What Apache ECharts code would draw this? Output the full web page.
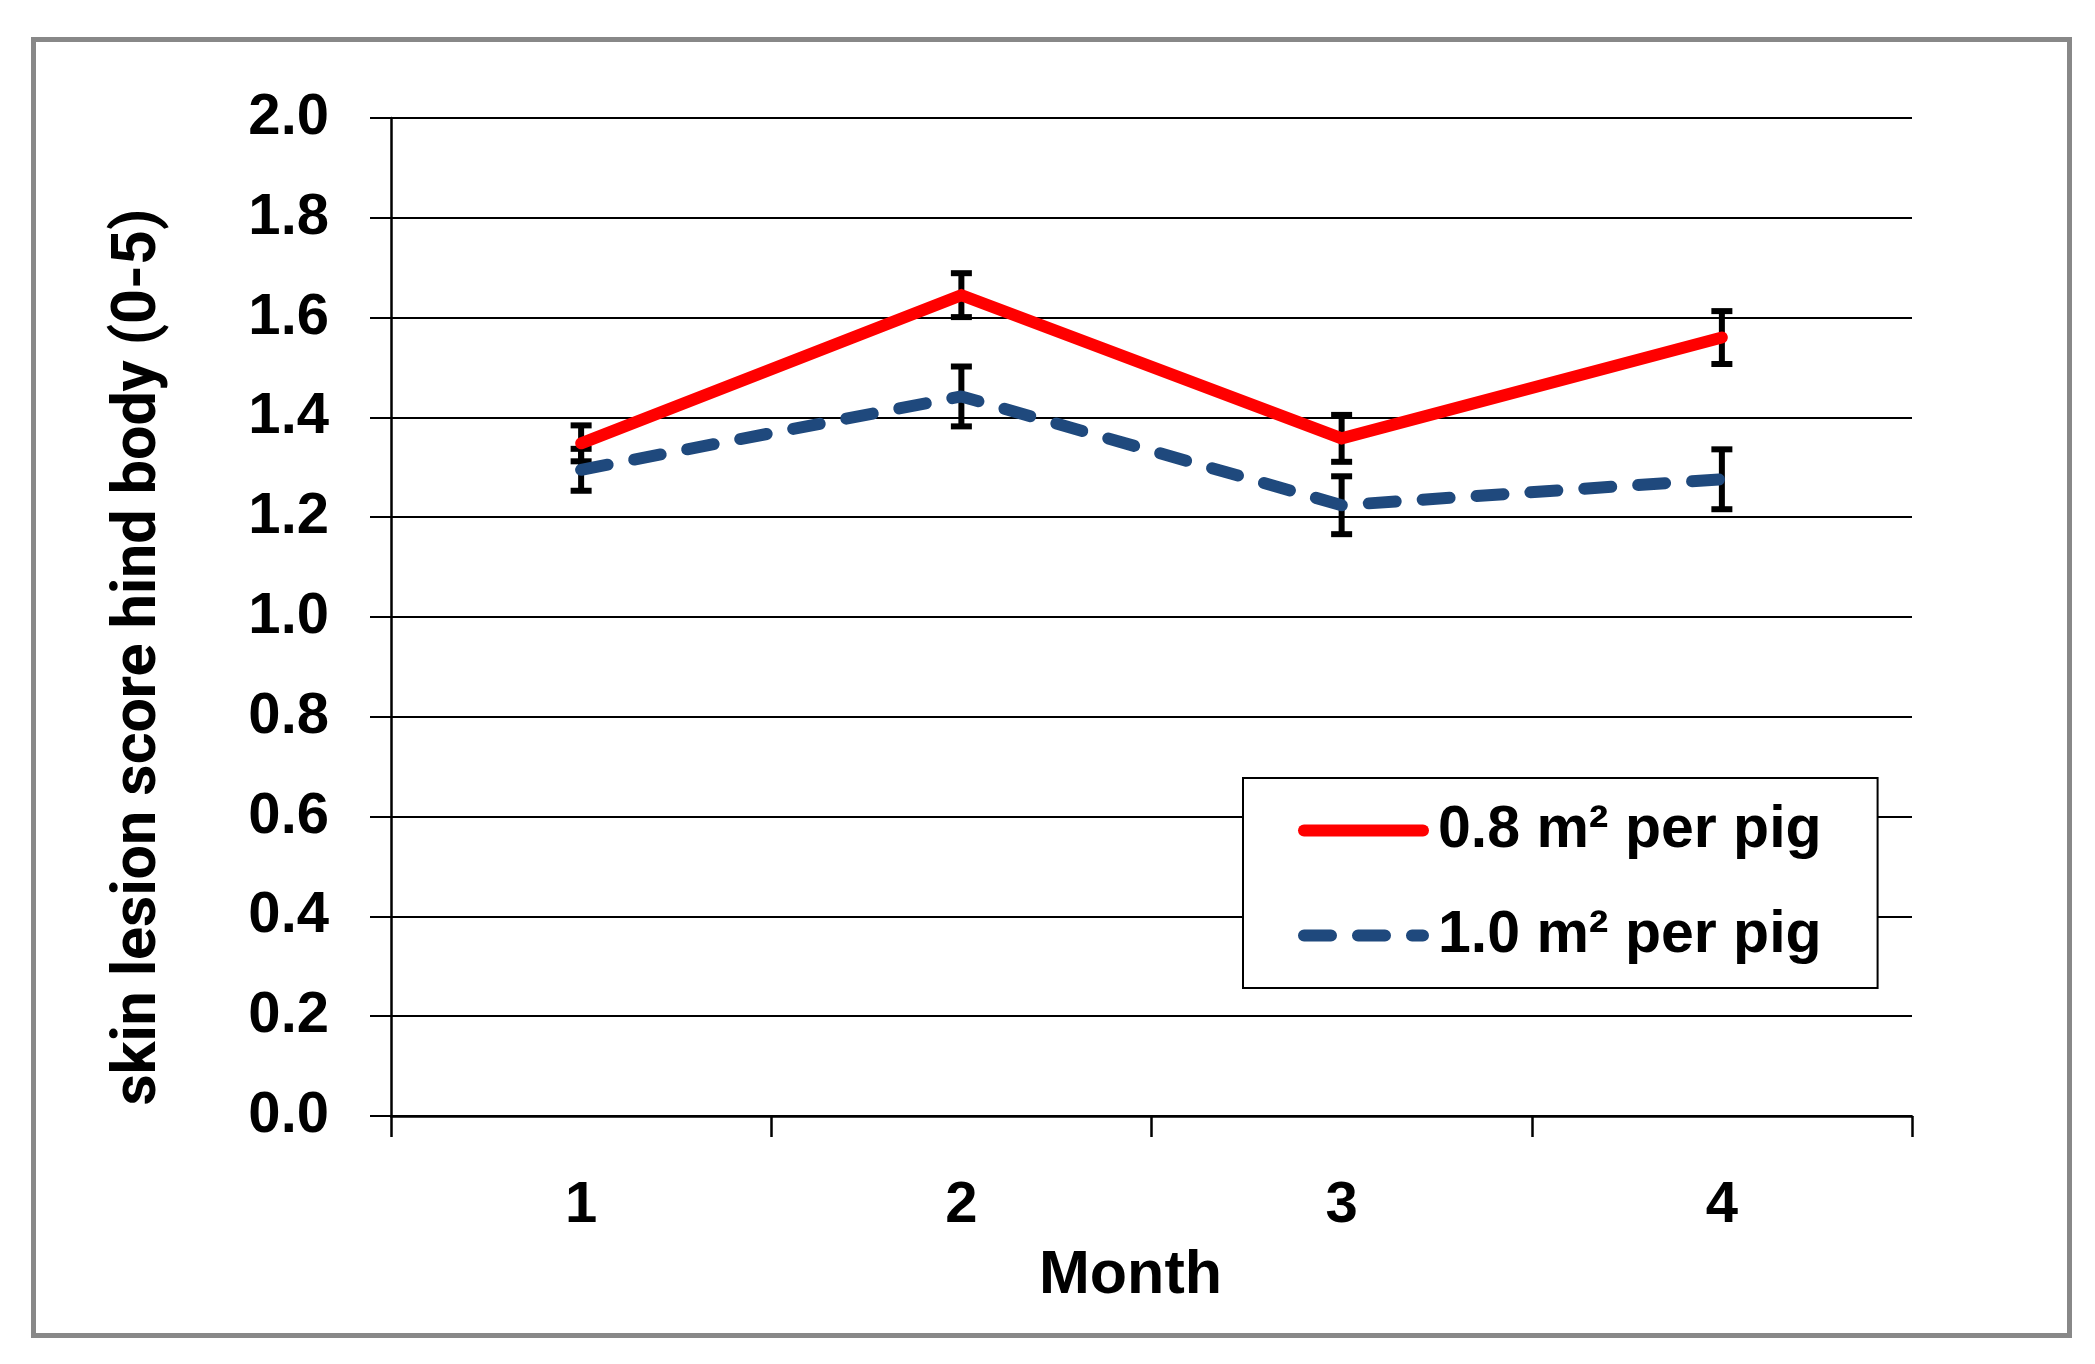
<!DOCTYPE html>
<html>
<head>
<meta charset="utf-8">
<script src="https://cdn.jsdelivr.net/npm/echarts@6/dist/echarts.min.js"></script>
<style>
html,body{margin:0;padding:0;background:#fff;}
#c{width:2095px;height:1364px;}
</style>
</head>
<body>
<div id="c"></div>
<script>
const months = ['1', '2', '3', '4'];
const yTicks = [0, 0.2, 0.4, 0.6, 0.8, 1.0, 1.2, 1.4, 1.6, 1.8, 2.0];
const seriesNames = ['0.8 m\u00B2 per pig', '1.0 m\u00B2 per pig'];
const red08 = [1.348, 1.645, 1.358, 1.560];
const red08Err = [0.036, 0.044, 0.047, 0.053];
const blue10 = [1.295, 1.442, 1.224, 1.276];
const blue10Err = [0.042, 0.060, 0.058, 0.060];

const labelFont = 'Liberation Sans';
const chart = echarts.init(document.getElementById('c'), null, {renderer: 'canvas'});

function errData(vals, errs) {
  return vals.map((v, i) => [i, v - errs[i], v + errs[i]]);
}
function errRender(params, api) {
  const x = api.value(0);
  const lo = api.coord([x, api.value(1)]);
  const hi = api.coord([x, api.value(2)]);
  const hw = 10.5;
  const st = {stroke: '#000', lineWidth: 6};
  return {
    type: 'group',
    children: [
      {type: 'line', shape: {x1: lo[0], y1: lo[1], x2: hi[0], y2: hi[1]}, style: st},
      {type: 'line', shape: {x1: lo[0] - hw, y1: lo[1], x2: lo[0] + hw, y2: lo[1]}, style: st},
      {type: 'line', shape: {x1: hi[0] - hw, y1: hi[1], x2: hi[0] + hw, y2: hi[1]}, style: st}
    ]
  };
}

const redLine = {color: '#FF0000', width: 12, cap: 'round', join: 'miter'};
const blueLine = {color: '#1F497D', width: 12, type: [27, 27], cap: 'round'};
const hiddenDot = {color: 'rgba(0,0,0,0)', borderColor: 'rgba(0,0,0,0)', borderWidth: 0};

chart.setOption({
  animation: false,
  backgroundColor: '#fff',
  grid: {left: 391, right: 183, top: 118, bottom: 248, containLabel: false},
  graphic: [{
    type: 'rect', left: 31, top: 37, z: -10,
    shape: {x: 0, y: 0, width: 2036, height: 1296},
    style: {fill: null, stroke: '#888888', lineWidth: 5}
  }],
  legend: {
    orient: 'vertical',
    left: 1243, top: 778,
    padding: [23, 56, 23, 55],
    itemGap: 46,
    itemWidth: 119, itemHeight: 2,
    backgroundColor: '#fff',
    borderColor: '#000', borderWidth: 2,
    textStyle: {fontFamily: labelFont, fontWeight: 'bold', fontSize: 59, color: '#000', padding: [0, 0, 0, 10]},
    itemStyle: hiddenDot,
    data: [
      {name: seriesNames[0], lineStyle: redLine, itemStyle: hiddenDot},
      {name: seriesNames[1], lineStyle: blueLine, itemStyle: hiddenDot}
    ]
  },
  xAxis: {
    type: 'category',
    data: months,
    boundaryGap: true,
    name: 'Month',
    nameLocation: 'middle',
    nameGap: 130,
    nameTextStyle: {fontFamily: labelFont, fontWeight: 'bold', fontSize: 61, color: '#000', padding: [0, 42, 0, 0]},
    axisLine: {lineStyle: {color: '#000', width: 2.5}},
    axisTick: {show: true, length: 21, lineStyle: {color: '#000', width: 2.5}},
    axisLabel: {margin: 61, fontFamily: labelFont, fontWeight: 'bold', fontSize: 58, color: '#000'},
    splitLine: {show: false}
  },
  yAxis: {
    type: 'value',
    min: 0, max: 2, interval: 0.2,
    name: 'skin lesion score hind body (0-5)',
    nameLocation: 'middle',
    nameGap: 221,
    nameTextStyle: {fontFamily: 'Roboto', fontWeight: 'bold', fontSize: 61, color: '#000', padding: [0, 80, 0, 0]},
    axisLine: {show: true, lineStyle: {color: '#000', width: 2.5}},
    axisTick: {show: true, length: 21, lineStyle: {color: '#000', width: 2}},
    axisLabel: {margin: 62, fontFamily: labelFont, fontWeight: 'bold', fontSize: 58, color: '#000',
      formatter: v => yTicks.includes(Math.round(v * 10) / 10) ? v.toFixed(1) : ''},
    splitLine: {show: true, lineStyle: {color: '#000', width: 2}}
  },
  series: [
    {
      name: seriesNames[0], type: 'line', data: red08, symbol: 'none', z: 5,
      lineStyle: redLine, itemStyle: {color: '#FF0000'}
    },
    {
      name: seriesNames[1], type: 'line', data: blue10, symbol: 'none', z: 5,
      lineStyle: blueLine, itemStyle: {color: '#1F497D'}
    },
    {type: 'custom', name: 'err1', data: errData(red08, red08Err), renderItem: errRender, z: 3, silent: true},
    {type: 'custom', name: 'err2', data: errData(blue10, blue10Err), renderItem: errRender, z: 3, silent: true}
  ]
});
</script>
</body>
</html>
